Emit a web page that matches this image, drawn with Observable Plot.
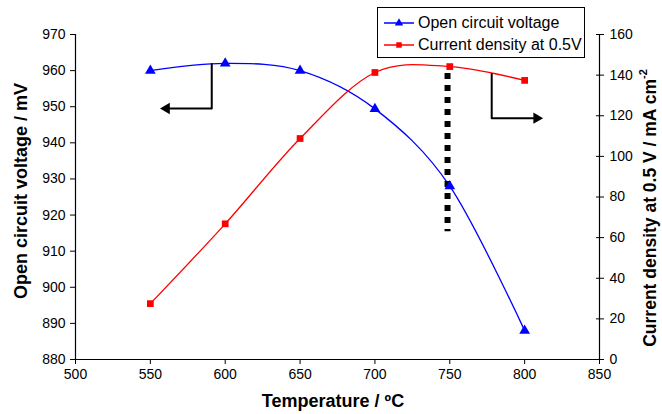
<!DOCTYPE html>
<html><head><meta charset="utf-8">
<script src="https://cdn.jsdelivr.net/npm/d3@7"></script>
<script src="https://cdn.jsdelivr.net/npm/@observablehq/plot@0.6"></script>
<style>
body{margin:0;background:#fff;}
#wrap{position:relative;width:662px;height:414px;overflow:hidden;}
#legend{position:absolute;left:377px;top:7px;width:208px;height:51px;border:1px solid #000;background:#fff;font:16px "Liberation Sans",Arial,sans-serif;box-sizing:border-box;color:#000;}
.row{position:absolute;left:6px;display:flex;align-items:center;height:18px;white-space:nowrap;}
.row svg{margin-right:4px;}
</style></head><body><div id="wrap"><div id="chart"></div><div id="legend"></div></div>
<script>
// ---- data ----
const temps = [550, 600, 650, 700, 750, 800];
const ocv = [960, 962, 960, 949.4, 928, 888];          // mV (left axis)
const cd = [27.5, 66.8, 108.8, 141.3, 144.2, 137.4];    // mA cm-2 (right axis)
const xTicks = [500, 550, 600, 650, 700, 750, 800, 850];
const ocvTicks = [880, 890, 900, 910, 920, 930, 940, 950, 960, 970];
const cdTicks = [0, 20, 40, 60, 80, 100, 120, 140, 160];
const seriesNames = ["Open circuit voltage", "Current density at 0.5V"];
// annotations (data units)
const leftArrowT = [591, 591, 560.8];
const leftArrowV = [961.8, 949.5, 949.5];        // mV
const rightArrowT = [778, 778, 808];
const rightArrowC = [140.6, 118.8, 118.8];       // mA cm-2
const dottedT = [748.5];
const dottedV = [959.2, 915.4];                  // mV top, bottom

// ---- scales helpers ----
const toLeft = v => 880 + v * 90 / 160;
const fromLeft = d => Math.round((d - 880) * 160 / 90);
const ocvData = temps.map((t, i) => ({t, v: ocv[i]}));
const cdData = temps.map((t, i) => ({t, v: toLeft(cd[i])}));
const leftArrow = leftArrowT.map((t, i) => ({t, v: leftArrowV[i]}));
const rightArrow = rightArrowT.map((t, i) => ({t, v: toLeft(rightArrowC[i])}));
const BLUE = "#0000ff", RED = "#ff0000";

const chart = Plot.plot({
  width: 662, height: 414,
  marginLeft: 75, marginRight: 63, marginTop: 34, marginBottom: 55,
  style: {fontFamily: '"Liberation Sans", Arial, sans-serif', fontSize: "14px", color: "#000", background: "#fff", overflow: "visible"},
  x: {domain: [500, 850]},
  y: {domain: [880, 970]},
  marks: [
    Plot.axisX({ticks: xTicks, tickSize: 5, tickPadding: 5, label: null, tickFormat: d => d}),
    Plot.axisY({ticks: ocvTicks, anchor: "left", tickSize: 5, tickPadding: 5, label: null, tickFormat: d => d}),
    Plot.axisY(cdTicks.map(toLeft), {anchor: "right", tickSize: 8, dx: -4, text: null, label: null}),
    Plot.axisY(cdTicks.map(toLeft), {anchor: "right", tickSize: 0, tickPadding: 10, label: null, tickFormat: fromLeft}),
    Plot.ruleX([500, 850], {stroke: "#000", strokeWidth: 1.2}),
    Plot.ruleY([880], {stroke: "#000", strokeWidth: 1.2}),
    Plot.line(ocvData, {x: "t", y: "v", stroke: BLUE, strokeWidth: 1.3, curve: "cardinal"}),
    Plot.line(cdData, {x: "t", y: "v", stroke: RED, strokeWidth: 1.3, curve: "cardinal"}),
    Plot.ruleX(dottedT, {x: d => d, y1: dottedV[0], y2: dottedV[1], stroke: "#000", strokeWidth: 6, strokeDasharray: "6,6"}),
    Plot.dot(ocvData, {x: "t", y: "v", symbol: "triangle", fill: BLUE, r: 4}),
    Plot.dot(cdData, {x: "t", y: "v", symbol: "square", fill: RED, r: 3.8}),
    Plot.line(leftArrow, {x: "t", y: "v", stroke: "#000", strokeWidth: 2}),
    Plot.dot([leftArrow[2]], {x: "t", y: "v", symbol: "triangle", fill: "#000", r: 4.2, rotate: -90}),
    Plot.line(rightArrow, {x: "t", y: "v", stroke: "#000", strokeWidth: 2}),
    Plot.dot([rightArrow[2]], {x: "t", y: "v", symbol: "triangle", fill: "#000", r: 4.2, rotate: 90})
  ]
});
document.getElementById("chart").appendChild(chart);

const svg = d3.select(chart);
const font = '"Liberation Sans", Arial, sans-serif';
svg.append("text").attr("transform", "translate(21,191) rotate(-90)")
  .attr("text-anchor", "middle").attr("dominant-baseline", "central")
  .style("font", `bold 18px ${font}`).attr("fill", "#000")
  .text("Open circuit voltage / mV");
const rt = svg.append("text").attr("transform", "translate(650,208) rotate(-90)")
  .attr("text-anchor", "middle").attr("dominant-baseline", "central")
  .style("font", `bold 17.5px ${font}`).attr("fill", "#000");
rt.append("tspan").text("Current density at 0.5 V / mA cm");
rt.append("tspan").attr("dy", -7).style("font-size", "11px").text("-2");
svg.append("text").attr("x", 333).attr("y", 401)
  .attr("text-anchor", "middle").attr("dominant-baseline", "central")
  .style("font", `bold 18px ${font}`).attr("fill", "#000")
  .text("Temperature / ºC");

// legend
const legend = d3.select("#legend");
[[BLUE, "triangle", seriesNames[0], 6], [RED, "square", seriesNames[1], 28]].forEach(([c, sym, name, top]) => {
  const row = legend.append("div").attr("class", "row").style("top", top + "px");
  const s = row.append("svg").attr("width", 30).attr("height", 12);
  s.append("line").attr("x1", 0).attr("x2", 30).attr("y1", 6).attr("y2", 6).attr("stroke", c).attr("stroke-width", 1.5);
  s.append("path").attr("transform", "translate(15,6)")
    .attr("d", d3.symbol(sym === "triangle" ? d3.symbolTriangle : d3.symbolSquare, 30)()).attr("fill", c);
  row.append("span").text(name);
});
</script>
</body></html>
